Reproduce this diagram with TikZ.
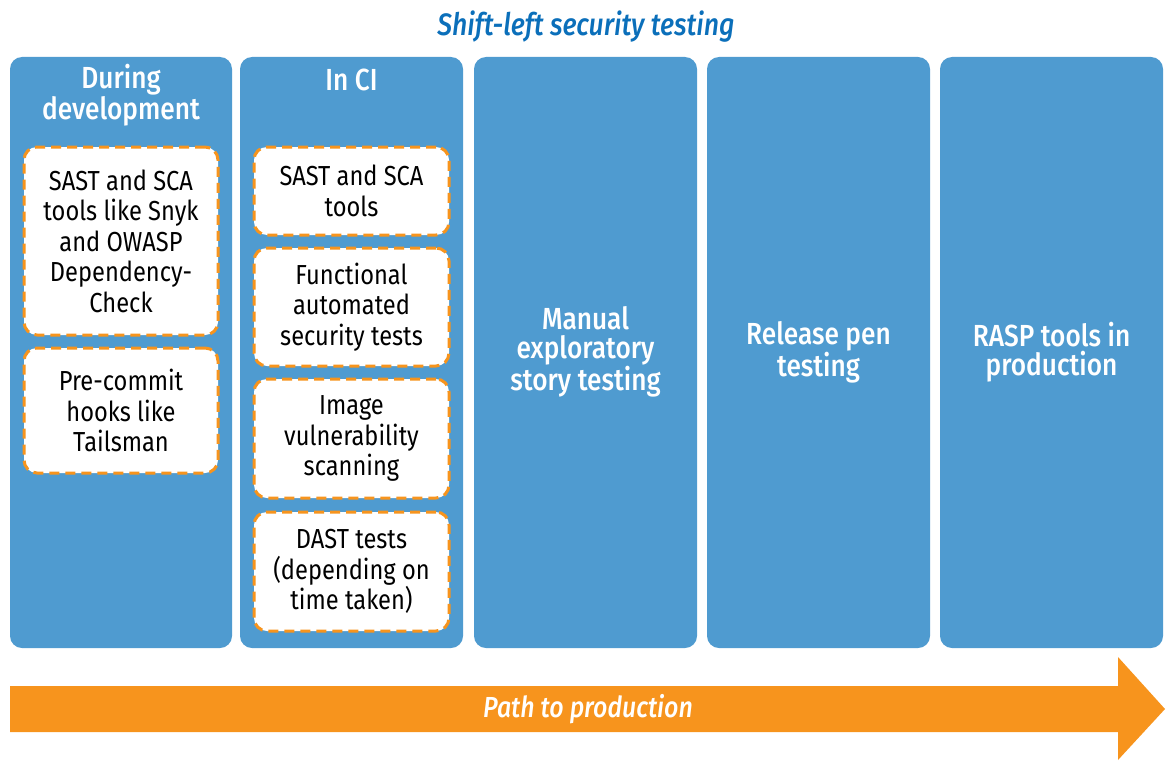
\documentclass[tikz,border=0pt]{standalone}
\usepackage{fontspec}
\setmainfont{Fira Sans}[FakeStretch=0.86, BoldFont={Fira Sans Medium}, BoldItalicFont={Fira Sans Medium Italic}]
\definecolor{colblue}{HTML}{4F9BD0}
\definecolor{titleblue}{HTML}{0B6FBA}
\definecolor{orng}{HTML}{F7941D}
\tikzset{
  column/.style={fill=colblue, draw=none, rounded corners=12pt},
  toolbox/.style={draw=orng, fill=white, line width=3pt, dash pattern=on 10pt off 6pt, rounded corners=13pt,
     align=center, inner sep=0pt, font=\fontsize{27.5}{30.5}\selectfont},
  colhead/.style={text=white, align=center, font=\bfseries\fontsize{30.5}{29.5}\selectfont},
}
\begin{document}
\begin{tikzpicture}[x=1pt,y=-1pt]
\useasboundingbox (0,0) rectangle (1166,760);
% title
\node[text=titleblue, font=\bfseries\itshape\fontsize{31}{34}\selectfont] (title) at (586,27) {Shift-left security testing};
% columns
\fill[column] (10,57) rectangle (232,648);
\fill[column] (240,57) rectangle (463,648);
\fill[column] (474,57) rectangle (697,648);
\fill[column] (707,57) rectangle (930,648);
\fill[column] (940,57) rectangle (1163,648);
% headers
\node[colhead] (h1) at (121,95) {During\\development};
\node[colhead] (h2) at (351.5,80) {In CI};
\node[colhead] (h3) at (585.5,352) {Manual\\exploratory\\story testing};
\node[colhead] (h4) at (818.5,352) {Release pen\\testing};
\node[colhead] (h5) at (1051.5,352) {RASP tools in\\production};
% column 1 boxes
\node[toolbox, minimum width=194pt, minimum height=188pt] (b11) at (121,241) {SAST and SCA\\tools like Snyk\\and OWASP\\Dependency-\\Check};
\node[toolbox, minimum width=194pt, minimum height=125pt] (b12) at (121,410.5) {Pre-commit\\hooks like\\Tailsman};
% column 2 boxes
\node[toolbox, minimum width=195pt, minimum height=88pt] (b21) at (351.5,191) {SAST and SCA\\tools};
\node[toolbox, minimum width=195pt, minimum height=118pt] (b22) at (351.5,307) {Functional\\automated\\security tests};
\node[toolbox, minimum width=195pt, minimum height=119pt] (b23) at (351.5,438.5) {Image\\vulnerability\\scanning};
\node[toolbox, minimum width=195pt, minimum height=119pt] (b24) at (351.5,571.5) {DAST tests\\(depending on\\time taken)};
% arrow
\fill[orng] (10,686) -- (1118,686) -- (1118,657) -- (1165,709) -- (1118,760) -- (1118,732) -- (10,732) -- cycle;
\node[text=white, font=\bfseries\itshape\fontsize{29}{32}\selectfont] (path) at (588,709) {Path to production};
\end{tikzpicture}
\end{document}
